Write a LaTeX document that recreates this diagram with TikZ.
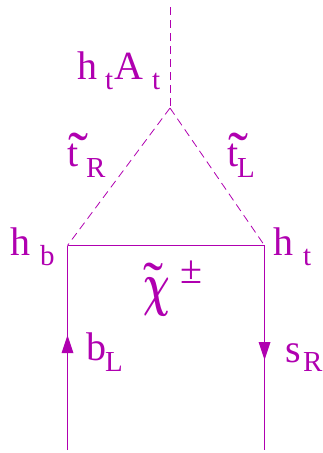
\documentclass[tikz,border=0pt]{standalone}
\usepackage{bm}
\usepackage{fontspec}
\setmainfont{Liberation Serif}
\usetikzlibrary{arrows.meta}
\definecolor{feyn}{HTML}{B000B0}
\tikzset{
  big/.style={anchor=base west,inner sep=0pt,outer sep=0pt,text=feyn,font=\fontsize{40}{40}\selectfont},
  sub/.style={anchor=base west,inner sep=0pt,outer sep=0pt,text=feyn,font=\fontsize{29}{29}\selectfont},
  wave/.style={anchor=base west,inner sep=0pt,outer sep=0pt,text=feyn,font=\fontsize{60}{60}\selectfont},
  solidline/.style={draw=feyn,line width=1pt},
  scalar/.style={draw=feyn,line width=0.8pt,dash pattern=on 8pt off 5pt},
  tip/.style={fill=feyn,draw=none}
}
\begin{document}
\begin{tikzpicture}[x=1pt,y=-1pt]
\useasboundingbox (0,0) rectangle (322,453);
\coordinate (top) at (170,7);
\coordinate (v) at (170,108);
\coordinate (l) at (67.5,245.5);
\coordinate (r) at (264.5,245.5);
\coordinate (lb) at (67.5,450);
\coordinate (rb) at (264.5,450);
\draw[scalar] (top) -- (v);
\draw[scalar] (v) -- (l);
\draw[scalar] (v) -- (r);
\draw[solidline] (l) -- (r);
\draw[solidline] (lb) -- (l);
\draw[solidline] (r) -- (rb);
\fill[tip] (67.5,335) -- (73.5,353) -- (61.5,353) -- cycle;
\fill[tip] (264.5,360) -- (258.5,342) -- (270.5,342) -- cycle;
\node[big] (h1) at (77,79) {h};
\node[sub] (t1) at (105,89) {t};
\node[big] (A) at (114,79) {A};
\node[sub] (t2) at (152,89) {t};
\node[big] (tR) at (67.5,166) {t};
\node[wave] (tilR) at (68,173) {˜};
\node[sub] (R1) at (86,177) {R};
\node[big] (tL) at (227.5,166) {t};
\node[wave] (tilL) at (228,173) {˜};
\node[sub] (L1) at (237,177) {L};
\node[big] (hb) at (10.5,255) {h};
\node[sub] (b1) at (40,265) {b};
\node[big] (ht) at (273.5,255) {h};
\node[sub] (t3) at (303,265) {t};
\node[anchor=base west,inner sep=0pt,text=feyn] (chi) at (143,304) {\scalebox{3.7}[6]{$\bm{\chi}$}};
\node[wave] (tilchi) at (143,303) {˜};
\node[sub,font=\fontsize{40}{40}\selectfont] (pm) at (180,283) {±};
\node[big] (b2) at (86.5,360) {b};
\node[sub] (L2) at (105,371) {L};
\node[big] (s) at (285,362) {s};
\node[sub] (R2) at (303,371) {R};
\end{tikzpicture}
\end{document}
